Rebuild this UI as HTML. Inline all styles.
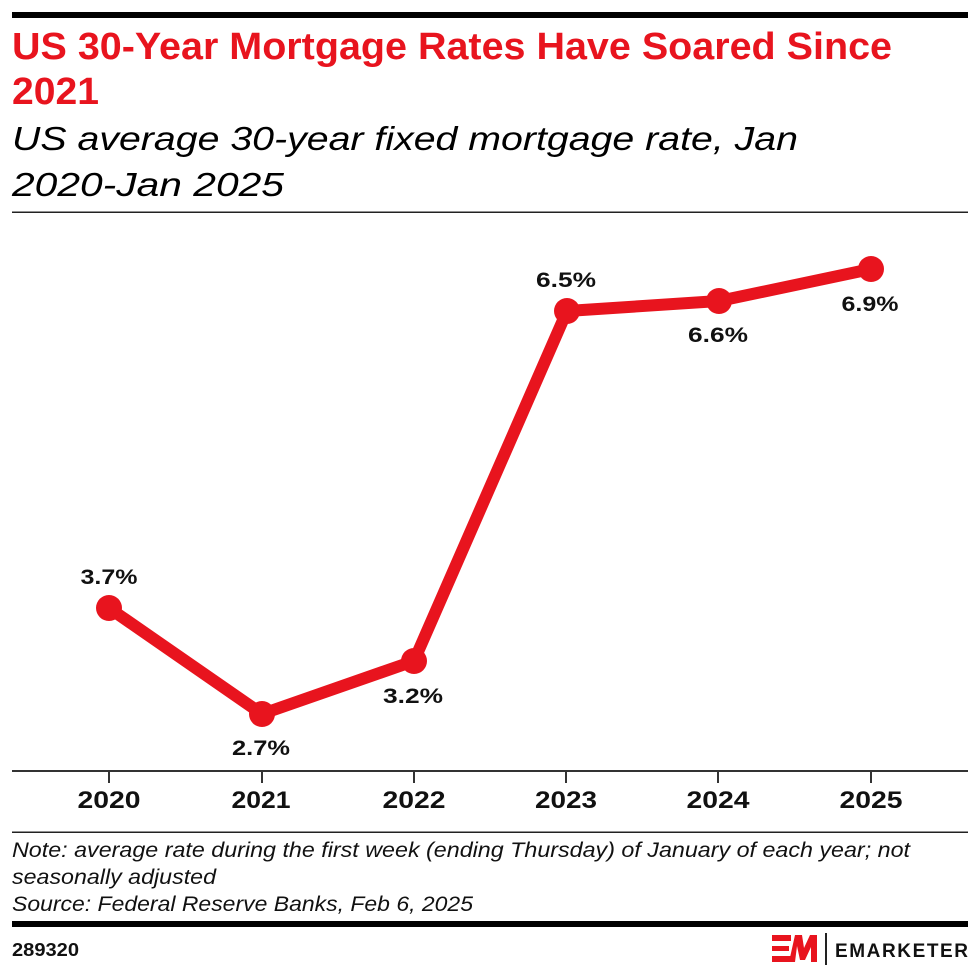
<!DOCTYPE html>
<html>
<head>
<meta charset="utf-8">
<style>
  html, body { margin: 0; padding: 0; background: #fff; }
  svg { display: block; }
  text { font-family: "Liberation Sans", Arial, sans-serif; }
</style>
</head>
<body>
<svg width="980" height="977" viewBox="0 0 980 977" xmlns="http://www.w3.org/2000/svg">
  <rect width="980" height="977" fill="#fff"/>
  <!-- top bar -->
  <rect x="12" y="12" width="956" height="6" fill="#000"/>
  <!-- title -->
  <text x="12" y="59" font-size="38" font-weight="bold" fill="#E8141E" textLength="880" lengthAdjust="spacingAndGlyphs">US 30-Year Mortgage Rates Have Soared Since</text>
  <text x="12" y="104" font-size="38" font-weight="bold" fill="#E8141E" textLength="87" lengthAdjust="spacingAndGlyphs">2021</text>
  <!-- subtitle -->
  <text x="12" y="150" font-size="33" font-style="italic" fill="#000" textLength="786" lengthAdjust="spacingAndGlyphs">US average 30-year fixed mortgage rate, Jan</text>
  <text x="12" y="196" font-size="33" font-style="italic" fill="#000" textLength="272" lengthAdjust="spacingAndGlyphs">2020-Jan 2025</text>
  <rect x="12" y="211.5" width="956" height="1.5" fill="#222"/>

  <!-- axis -->
  <rect x="12" y="770" width="956" height="2" fill="#333"/>
  <g fill="#333">
    <rect x="108" y="771" width="2" height="12"/>
    <rect x="261" y="771" width="2" height="12"/>
    <rect x="413" y="771" width="2" height="12"/>
    <rect x="565" y="771" width="2" height="12"/>
    <rect x="717" y="771" width="2" height="12"/>
    <rect x="870" y="771" width="2" height="12"/>
  </g>
  <g font-size="24" font-weight="bold" fill="#111" text-anchor="middle">
    <text x="109" y="808" textLength="63" lengthAdjust="spacingAndGlyphs">2020</text>
    <text x="261" y="808" textLength="59" lengthAdjust="spacingAndGlyphs">2021</text>
    <text x="414" y="808" textLength="63" lengthAdjust="spacingAndGlyphs">2022</text>
    <text x="566" y="808" textLength="62" lengthAdjust="spacingAndGlyphs">2023</text>
    <text x="718" y="808" textLength="63" lengthAdjust="spacingAndGlyphs">2024</text>
    <text x="871" y="808" textLength="63" lengthAdjust="spacingAndGlyphs">2025</text>
  </g>

  <!-- series -->
  <polyline points="109,608 262,714 414,661 567,311 719,301 871,269" fill="none" stroke="#E8141E" stroke-width="12" stroke-linejoin="round" stroke-linecap="round"/>
  <g fill="#E8141E">
    <circle cx="109" cy="608" r="13"/>
    <circle cx="262" cy="714" r="13"/>
    <circle cx="414" cy="661" r="13"/>
    <circle cx="567" cy="311" r="13"/>
    <circle cx="719" cy="301" r="13"/>
    <circle cx="871" cy="269" r="13"/>
  </g>

  <!-- value labels -->
  <g font-size="21" font-weight="bold" fill="#111" text-anchor="middle">
    <text x="109" y="584" textLength="57" lengthAdjust="spacingAndGlyphs">3.7%</text>
    <text x="261" y="755" textLength="58" lengthAdjust="spacingAndGlyphs">2.7%</text>
    <text x="413" y="703" textLength="60" lengthAdjust="spacingAndGlyphs">3.2%</text>
    <text x="566" y="287" textLength="60" lengthAdjust="spacingAndGlyphs">6.5%</text>
    <text x="718" y="342" textLength="60" lengthAdjust="spacingAndGlyphs">6.6%</text>
    <text x="870" y="311" textLength="57" lengthAdjust="spacingAndGlyphs">6.9%</text>
  </g>

  <!-- note -->
  <rect x="12" y="831.5" width="956" height="1.5" fill="#222"/>
  <g font-size="21" font-style="italic" fill="#111">
    <text x="12" y="857" textLength="898" lengthAdjust="spacingAndGlyphs">Note: average rate during the first week (ending Thursday) of January of each year; not</text>
    <text x="12" y="884" textLength="204" lengthAdjust="spacingAndGlyphs">seasonally adjusted</text>
    <text x="12" y="911" textLength="461" lengthAdjust="spacingAndGlyphs">Source: Federal Reserve Banks, Feb 6, 2025</text>
  </g>

  <!-- bottom bar -->
  <rect x="12" y="921" width="956" height="6" fill="#000"/>
  <text x="12" y="956" font-size="18" font-weight="bold" fill="#111" textLength="67" lengthAdjust="spacingAndGlyphs">289320</text>

  <!-- logo -->
  <g fill="#E8141E">
    <rect x="772" y="935" width="19" height="6"/>
    <rect x="772" y="946" width="17" height="5"/>
    <rect x="772" y="956" width="19" height="6"/>
    <polygon points="789,962 795,935 802,935 804,948 810,935 817,935 817,962 811,962 811,947 805,960 800,960 797,946 795,962"/>
  </g>
  <rect x="825" y="933" width="2" height="32" fill="#222"/>
  <text x="835" y="957" font-size="19" font-weight="bold" fill="#111" textLength="133" lengthAdjust="spacing">EMARKETER</text>
</svg>
</body>
</html>
